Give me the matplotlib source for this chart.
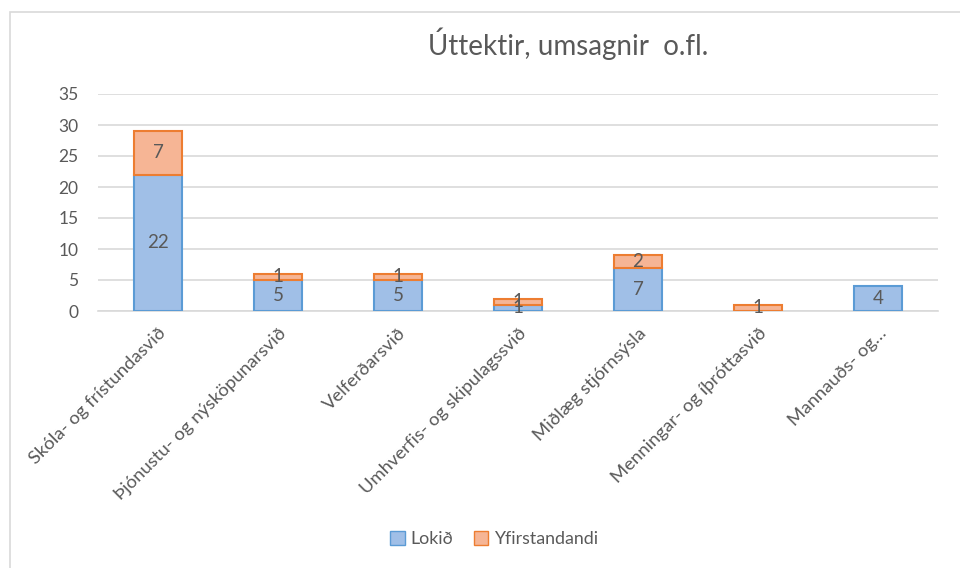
import matplotlib
matplotlib.use("Agg")
import matplotlib.pyplot as plt
from matplotlib.patches import Rectangle, Patch
import numpy as np

categories = ["Skóla- og frístundasvið", "Þjónustu- og nýsköpunarsvið", "Velferðarsvið",
              "Umhverfis- og skipulagssvið", "Miðlæg stjórnsýsla", "Menningar- og íþróttasvið",
              "Mannauðs- og…"]
lokid = [22, 5, 5, 1, 7, 0, 4]
yfirstandandi = [7, 1, 1, 1, 2, 1, 0]
yticks = [0, 5, 10, 15, 20, 25, 30, 35]

plt.rcParams['font.family'] = ['Lato', 'DejaVu Sans']
grey = '#595959'
blue_fill, blue_edge = '#a0bfe7', '#5b9bd5'
orange_fill, orange_edge = '#f6b595', '#ed7d31'

fig = plt.figure(figsize=(9.6, 5.68), dpi=100)
ax = fig.add_axes([98/960, 1-311/568, 840/960, 217/568])

x = np.arange(len(categories))
w = 0.4
ax.bar(x, lokid, w, color=blue_fill,
       edgecolor=[blue_edge if v > 0 else 'none' for v in lokid], linewidth=1.5, zorder=3)
ax.bar(x, yfirstandandi, w, bottom=lokid, color=orange_fill,
       edgecolor=[orange_edge if v > 0 else 'none' for v in yfirstandandi], linewidth=1.5, zorder=3)

for i in range(len(x)):
    if lokid[i] > 0:
        ax.text(x[i], lokid[i]/2, str(lokid[i]), ha='center', va='center', color=grey, fontsize=13.5, zorder=4)
    if yfirstandandi[i] > 0:
        ax.text(x[i], lokid[i] + yfirstandandi[i]/2, str(yfirstandandi[i]), ha='center', va='center',
                color=grey, fontsize=13.5, zorder=4)

ax.set_xlim(-0.5, len(categories)-0.5)
ax.set_ylim(0, 35)
ax.set_yticks(yticks)
ax.yaxis.grid(True, color='#d9d9d9', linewidth=1.2, zorder=0)
ax.set_axisbelow(True)
for s in ['top', 'right', 'left']:
    ax.spines[s].set_visible(False)
ax.spines['bottom'].set_color('#d9d9d9')
ax.spines['bottom'].set_linewidth(1.2)
ax.tick_params(axis='both', length=0, colors=grey, labelsize=12.5)
ax.tick_params(axis='y', pad=14)
ax.set_xticks(x)
ax.set_xticklabels(categories, rotation=45, ha='right', rotation_mode='anchor', fontsize=13.3)
ax.tick_params(axis='x', pad=10)

fig.text(568/960, 1-44/568, "Úttektir, umsagnir  o.fl.", ha='center', va='center', color=grey, fontsize=20)

fig.patches.append(Rectangle((10/960, -0.1), 1.1, 1-12/568+0.1, transform=fig.transFigure,
                             fill=False, edgecolor='#d9d9d9', linewidth=1.2))

handles = [Patch(facecolor=blue_fill, edgecolor=blue_edge, label='Lokið'),
           Patch(facecolor=orange_fill, edgecolor=orange_edge, label='Yfirstandandi')]
fig.legend(handles=handles, loc='center', bbox_to_anchor=(494/960, 1-539/568), ncol=2, frameon=False,
           fontsize=12.8, labelcolor=grey, handlelength=0.8, handleheight=0.8, handletextpad=0.3,
           columnspacing=1.2)

fig.savefig('out.png', dpi=100)
